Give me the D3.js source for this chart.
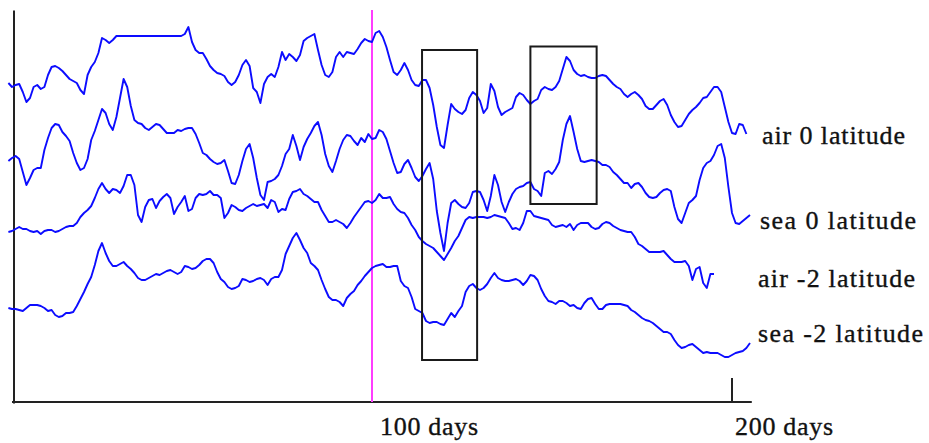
<!DOCTYPE html>
<html>
<head>
<meta charset="utf-8">
<script src="https://cdn.jsdelivr.net/npm/d3@7/dist/d3.min.js"></script>
<style>
  html, body { margin: 0; padding: 0; background: #fff; }
  svg { display: block; }
  .lbl { font-family: "Liberation Serif", "Times New Roman", serif; font-size: 26px; fill: #111; stroke: #111; stroke-width: 0.35px; }
</style>
</head>
<body>
<svg id="chart" width="929" height="443"></svg>
<script>
// Daily records, first value is day -1.
const START_DAY = -1;

const seriesNames = ["air 0 latitude", "sea 0 latitude", "air -2 latitude", "sea -2 latitude"];

const airEq = [320,316,318,319,311,301,305,316,318,314,316,328,336,337,335,332,328,324,322,320,
  313,309,328,336,341,350,365,363,360,363,367,
  367,367,367,367,367,367,367,367,367,367,367,367,367,367,367,367,367,367,
  369,376,361,353,350,350,344,337,333,330,329,327,321,318,321,328,338,343,337,315,311,300,
  319,326,329,326,336,351,343,349,346,342,348,362,365,367,369,353,338,328,326,331,346,351,
  346,351,350,349,354,360,364,362,361,370,372,366,356,343,331,328,333,340,333,323,318,317,
  323,323,315,298,276,258,255,278,299,294,291,289,293,305,311,308,302,290,295,319,312,296,
  288,291,293,295,306,310,308,303,299,302,304,313,316,314,313,316,322,334,346,342,333,329,
  327,328,326,325,325,327,328,327,323,319,316,314,309,306,309,311,308,304,297,294,294,298,
  302,304,298,288,281,276,277,283,289,293,296,300,305,306,311,316,316,311,296,281,270,269,
  279,278,269];

const seaEq = [242,245,247,244,231,218,225,233,235,235,253,265,275,279,278,271,267,262,250,240,
  233,235,244,263,272,283,294,290,279,273,286,305,324,316,297,283,280,279,275,273,276,279,
  278,274,270,270,270,273,272,274,275,275,269,260,250,248,244,241,239,240,243,232,220,219,
  228,242,254,259,245,225,208,203,221,222,224,228,237,249,254,268,257,243,256,264,270,277,
  281,268,249,237,231,242,254,263,268,267,262,258,265,261,269,264,265,273,271,264,252,240,
  230,231,239,243,235,226,222,227,234,240,224,192,170,152,180,200,203,199,196,195,200,211,
  212,211,203,192,207,228,218,201,191,201,209,214,216,217,220,221,214,212,207,230,232,229,
  234,241,263,279,287,271,254,242,241,242,243,242,241,238,238,236,231,228,224,220,220,215,
  219,220,216,210,206,205,206,210,213,214,212,196,184,180,190,200,203,207,223,235,240,242,
  248,257,259,245,216,190,180,179,182,185,188];

const airS2 = [171,172,174,176,174,174,172,171,172,169,172,173,173,171,172,174,176,177,177,180,
  186,190,193,197,205,214,220,214,210,214,213,210,217,228,228,218,188,181,196,203,204,195,
  202,206,209,205,189,196,201,207,192,194,205,209,208,209,212,208,208,205,185,190,198,196,
  193,192,195,197,199,197,198,199,195,203,201,191,194,193,204,211,212,214,209,207,204,201,
  201,193,187,181,181,183,181,179,175,180,186,191,196,201,202,200,203,209,205,205,206,199,
  194,191,190,185,178,173,166,162,159,157,155,151,147,143,149,155,162,167,175,183,186,185,
  186,186,186,185,186,188,187,186,185,180,174,175,173,180,192,192,187,186,185,184,183,178,
  176,177,178,176,179,173,178,180,180,180,176,174,175,179,181,180,177,175,173,172,171,171,
  166,159,157,154,151,151,151,151,152,148,144,141,141,141,142,137,123,134,136,120,115,129,129];

const seaS2 = [95,94,94,93,92,95,98,98,98,97,95,92,93,88,86,87,90,90,91,97,104,111,119,126,
  138,152,160,150,142,137,137,139,141,137,134,130,125,123,123,125,127,129,128,130,132,133,
  131,129,131,137,136,134,135,138,142,144,144,140,131,124,121,116,114,115,117,124,123,121,
  122,124,125,123,118,124,126,126,133,149,157,165,170,163,155,150,140,137,133,123,114,106,
  103,103,101,97,105,109,112,118,122,127,131,135,137,138,139,136,136,137,137,122,117,115,
  106,94,92,90,82,80,81,81,79,78,84,90,86,92,97,111,117,119,115,113,115,119,125,130,125,
  123,122,122,123,124,122,118,122,128,127,123,114,107,102,101,99,102,102,100,97,98,95,94,
  100,104,105,99,94,94,98,99,99,99,99,98,97,93,91,88,85,83,82,80,77,74,71,71,69,63,58,55,
  56,58,59,56,53,50,51,50,50,50,48,46,46,48,50,51,52,55,60];

// Day marked by the vertical line
const markerDay = 100;
// Tick labels on the time axis
const tickDays = [100, 200];
const tickLabels = ["100 days", "200 days"];
// Highlighted windows: day range and value range
const windows = [
  { from: 113.9, to: 129.2, lo: 43, hi: 353 },
  { from: 144.0, to: 162.4, lo: 199, hi: 356.5 }
];

// ---- layout ----
const svg = d3.select("#chart");
const x = d3.scaleLinear().domain([0, 200]).range([12, 732]);
const y = d3.scaleLinear().domain([0, 393]).range([403, 10]);
const axisLeftX = 13.5, axisBottomY = 402, axisEndDay = 205.5;
const labelPos = [
  { x: 762, y: 144, w: 143 },
  { x: 760, y: 229, w: 156 },
  { x: 758, y: 287, w: 157 },
  { x: 758, y: 342, w: 165 }
];

// Axes
const yAxis = d3.axisLeft(y).tickValues([]).tickSizeOuter(0);
svg.append("g").attr("transform", `translate(${axisLeftX},0)`).call(yAxis)
  .select(".domain").attr("stroke", "#222").attr("stroke-width", 2);

svg.append("line")
  .attr("x1", x(0)).attr("x2", x(axisEndDay))
  .attr("y1", axisBottomY).attr("y2", axisBottomY)
  .attr("stroke", "#222").attr("stroke-width", 2);

// Tick at the end of the period, pointing up
svg.append("line")
  .attr("x1", x(200)).attr("x2", x(200))
  .attr("y1", axisBottomY).attr("y2", axisBottomY - 24)
  .attr("stroke", "#222").attr("stroke-width", 2);

// Marker line at day 100
svg.append("line")
  .attr("x1", x(markerDay)).attr("x2", x(markerDay))
  .attr("y1", y(393)).attr("y2", axisBottomY)
  .attr("stroke", "#ff3cff").attr("stroke-width", 2);

// Series
const line = d3.line()
  .x((d, i) => x(START_DAY + i))
  .y(d => y(d));

const allSeries = [airEq, seaEq, airS2, seaS2];
svg.append("g").selectAll("path")
  .data(allSeries)
  .join("path")
  .attr("d", line)
  .attr("fill", "none")
  .attr("stroke", "#0c0cff")
  .attr("stroke-width", 1.9)
  .attr("stroke-linejoin", "round");

// Highlight windows
svg.append("g").selectAll("rect")
  .data(windows)
  .join("rect")
  .attr("x", d => x(d.from))
  .attr("y", d => y(d.hi))
  .attr("width", d => x(d.to) - x(d.from))
  .attr("height", d => y(d.lo) - y(d.hi))
  .attr("fill", "none")
  .attr("stroke", "#1a1a1a")
  .attr("stroke-width", 2);

// Series labels
svg.append("g").selectAll("text")
  .data(seriesNames)
  .join("text")
  .attr("class", "lbl")
  .attr("x", (d, i) => labelPos[i].x)
  .attr("y", (d, i) => labelPos[i].y)
  .attr("textLength", (d, i) => labelPos[i].w)
  .attr("lengthAdjust", "spacing")
  .text(d => d);

// Time axis labels
const tickOffset = [8, 3];
svg.append("g").selectAll("text")
  .data(tickDays)
  .join("text")
  .attr("class", "lbl")
  .attr("x", (d, i) => x(d) + tickOffset[i])
  .attr("y", 435)
  .attr("textLength", 98)
  .attr("lengthAdjust", "spacing")
  .text((d, i) => tickLabels[i]);
</script>
</body>
</html>
